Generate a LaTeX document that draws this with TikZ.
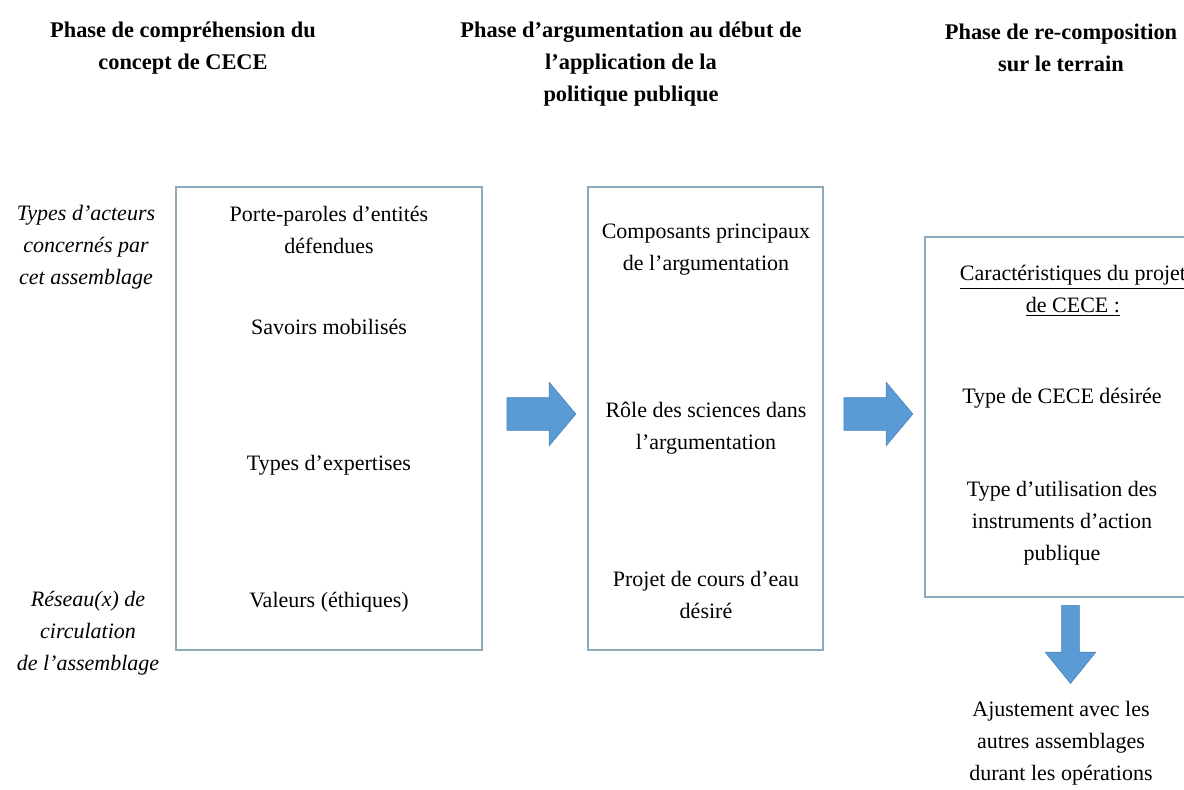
\documentclass[tikz,border=0pt]{standalone}
\usepackage{fontspec}
\setmainfont{Liberation Serif}
\usepackage{tikz}
\usetikzlibrary{positioning,shapes.arrows}
\definecolor{boxline}{HTML}{8FAABB}
\definecolor{arrowblue}{HTML}{5B9BD5}
\definecolor{arrowline}{HTML}{4A84B8}
\tikzset{
    phase/.style={
        font=\fontsize{11.2}{16.2}\selectfont\bfseries,
        align=center
    },
    row/.style={
        font=\fontsize{11}{16}\selectfont\itshape,
        align=center
    },
    item/.style={
        font=\fontsize{11}{16}\selectfont,
        align=center
    },
    cadre/.style={
        draw=boxline,
        line width=0.6pt,
        rectangle,
        inner sep=0pt
    },
    bigarrow/.style={
        single arrow,
        fill=arrowblue,
        draw=arrowline,
        line width=0.3pt,
        inner sep=8pt,
        minimum height=34.5pt,
        single arrow head extend=7.75pt,
        single arrow tip angle=100
    }
}

\begin{document}
\begin{tikzpicture}[x=0.5pt,y=-0.5pt]
    \useasboundingbox (0,0) rectangle (1184,789);

    % phases
    \node[phase] (ph1) at (183,48) {Phase de compréhension du\\concept de CECE};
    \node[phase] (ph2) at (631,64) {Phase d’argumentation au début de\\l’application de la\\politique publique};
    \node[phase] (ph3) at (1061,48) {Phase de re-composition\\sur le terrain};

    % row labels
    \node[row] (r1) at (86,247) {Types d’acteurs\\concernés par\\cet assemblage};
    \node[row] (r2) at (88,633) {Réseau(x) de\\circulation\\de l’assemblage};

    % boxes
    \node[cadre, minimum width=153pt, minimum height=231.5pt] (b1) at (329,418.5) {};
    \node[cadre, minimum width=117.5pt, minimum height=231.5pt] (b2) at (705.5,418.5) {};
    \node[cadre, minimum width=137.5pt, minimum height=180pt] (b3) at (1062.5,417) {};

    % first box
    \node[item] (a1) at (329,230) {Porte-paroles d’entités\\défendues};
    \node[item] (a2) at (329,327) {Savoirs mobilisés};
    \node[item] (a3) at (329,465) {Types d’expertises};
    \node[item] (a4) at (329,602) {Valeurs (éthiques)};

    % second box
    \node[item] (c1) at (706,250) {Composants principaux\\de l’argumentation};
    \node[item] (c2) at (706,428) {Rôle des sciences dans\\l’argumentation};
    \node[item] (c3) at (706,595) {Projet de cours d’eau\\désiré};

    % third box
    \node[item] (d1) at (1073,291) {\underline{Caractéristiques du projet}\\\underline{de CECE :}};
    \node[item] (d2) at (1062,398) {Type de CECE désirée};
    \node[item] (d3) at (1062,523) {Type d’utilisation des\\instruments d’action\\publique};

    % arrows
    \node[bigarrow] (f1) at (534.5,414) {};
    \node[bigarrow] (f2) at (871.5,414) {};
    \node[bigarrow, inner sep=4.25pt, minimum height=39pt,
          single arrow head extend=8.25pt, single arrow tip angle=78,
          shape border rotate=270] (f3) at (1070.5,639) {};

    \node[item] (e1) at (1061,743) {Ajustement avec les\\autres assemblages\\durant les opérations};
\end{tikzpicture}
\end{document}
